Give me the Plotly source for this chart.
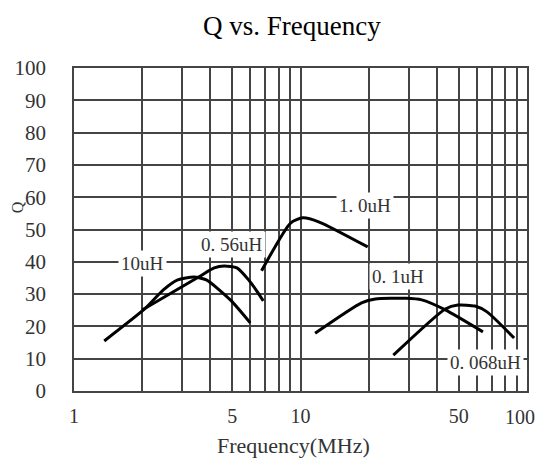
import math
import plotly.graph_objects as go

# Data (frequency in MHz, Q)
freq_10uH = [1.36, 2.05, 2.48, 2.87, 3.38, 3.84, 4.9, 6.0]
q_10uH = [15.5, 25.4, 31.3, 34.4, 35.3, 34.4, 28.2, 21.1]

freq_056uH = [2.0, 3.55, 4.16, 4.6, 5.24, 5.9, 6.45, 6.85]
q_056uH = [25.1, 35.3, 38.1, 38.7, 38.1, 34.4, 30.7, 27.9]

freq_1uH = [6.73, 9.04, 10.24, 12.1, 19.8]
q_1uH = [37.2, 52.0, 53.6, 52.3, 44.6]

freq_01uH = [11.6, 18.6, 21.4, 29.2, 34.3, 43.6, 63.9]
q_01uH = [17.9, 27.3, 28.5, 28.7, 28.2, 25.1, 18.3]

freq_0068uH = [25.7, 43.6, 49.6, 58.9, 66.6, 87.7]
q_0068uH = [11.1, 25.4, 26.6, 26.3, 24.5, 16.4]

series_names = ["10uH", "0. 56uH", "1. 0uH", "0. 1uH", "0. 068uH"]
label_freq = [2.0, 5.0, 19.3, 27.0, 65.7]
label_q = [39.6, 45.4, 57.4, 35.5, 8.8]

x_tickvals = [1, 2, 3, 4, 5, 6, 7, 8, 9, 10, 20, 30, 40, 50, 60, 70, 80, 90, 100]
x_ticktext = ["1", "", "", "", "5", "", "", "", "", "10", "", "", "", "50", "", "", "", "", ""]
x_last_tick = 100
x_last_text = "100"
y_tickvals = [0, 10, 20, 30, 40, 50, 60, 70, 80, 90, 100]

serif = "Liberation Serif"
grid_col = "#444444"
tick_font = dict(family=serif, size=20, color="#333333")

fig = go.Figure()
for fx, qy in [(freq_10uH, q_10uH), (freq_056uH, q_056uH), (freq_1uH, q_1uH),
               (freq_01uH, q_01uH), (freq_0068uH, q_0068uH)]:
    fig.add_trace(go.Scatter(x=fx, y=qy, mode="lines",
                             line=dict(color="black", width=3, shape="spline", smoothing=0.6),
                             showlegend=False, hoverinfo="skip"))

# annotations on a log axis take log10 of the data value
for name, fx, qy in zip(series_names, label_freq, label_q):
    fig.add_annotation(x=math.log10(fx), y=qy, xref="x", yref="y", text=name, showarrow=False,
                       xanchor="center", yanchor="middle",
                       font=dict(family=serif, size=19, color="#333333"),
                       bgcolor="white", borderpad=2)

# last x tick label (kept inside the page, as in the reference)
fig.add_annotation(x=math.log10(x_last_tick), y=0, xref="x", yref="paper", text=x_last_text,
                   showarrow=False, xanchor="center", yanchor="top", xshift=-7, yshift=-13,
                   font=tick_font)

fig.add_annotation(xref="paper", yref="paper", x=0.482, y=1.13, text="Q vs. Frequency",
                   xanchor="center", yanchor="middle",
                   showarrow=False, font=dict(family=serif, size=27, color="black"))
fig.add_annotation(xref="paper", yref="paper", x=0.4835, y=-0.17, text="Frequency(MHz)",
                   xanchor="center", yanchor="middle",
                   showarrow=False, font=dict(family=serif, size=22, color="#333333"))
fig.add_annotation(xref="paper", yref="y", x=-0.123, y=57, text="Q", textangle=-90,
                   xanchor="center", yanchor="middle",
                   showarrow=False, font=dict(family=serif, size=16, color="#333333"))

fig.update_xaxes(type="log", range=[0, 2], tickmode="array", tickvals=x_tickvals,
                 ticktext=x_ticktext, showgrid=True, gridcolor=grid_col, gridwidth=1.8,
                 showline=True, linecolor=grid_col, linewidth=1.8, mirror=True,
                 zeroline=False, ticks="", ticklabelstandoff=6,
                 tickfont=tick_font)
fig.update_yaxes(range=[0, 100], tickmode="array", tickvals=y_tickvals,
                 showgrid=True, gridcolor=grid_col, gridwidth=1.8,
                 showline=True, linecolor=grid_col, linewidth=1.8, mirror=True,
                 zeroline=False, ticks="", ticklabelstandoff=22,
                 tickfont=dict(family=serif, size=21, color="#333333"))

fig.update_layout(width=540, height=459, margin=dict(l=74, r=11, t=68, b=68),
                  paper_bgcolor="white", plot_bgcolor="white", showlegend=False)

fig.write_html("out.html")
